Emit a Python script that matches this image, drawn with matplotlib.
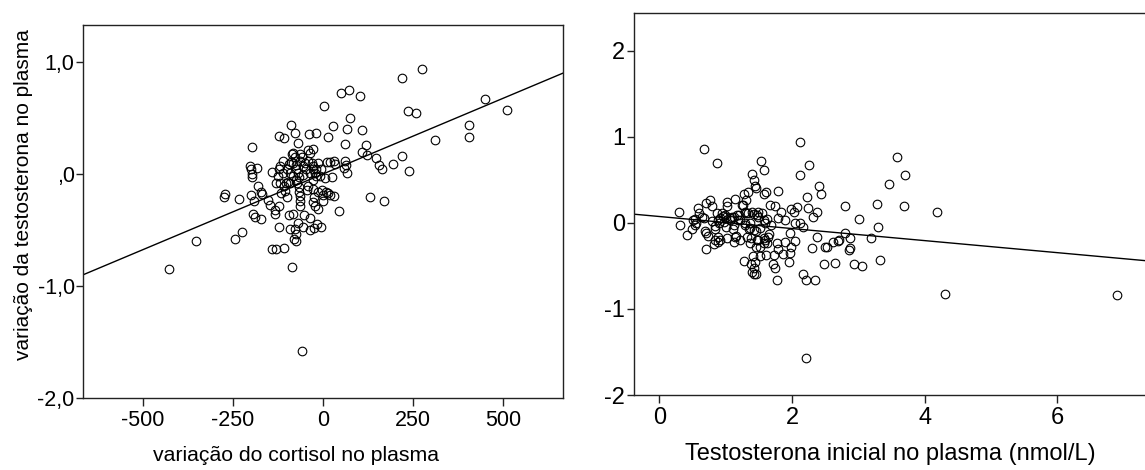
import matplotlib
matplotlib.use("Agg")
import matplotlib.pyplot as plt
import numpy as np

plt.rcParams['font.family'] = ['Liberation Sans', 'DejaVu Sans']

# ---- Left panel data: change in plasma cortisol vs change in testosterone
cortisol_change = [
    -429, -354, -276, -271, -233, -245, -226, -198, -202, -200, -198, -198, -184, -193, -180,
    -171, -169, -195, -190, -173, -152, -148, -143, -134, -134, -123, -122, -143, -130, -108,
    -122, -108, -89, -77, -69, -85, -58, -39, -20, 3, 14, 27, 50, 73, 104, 74, 66, 107, 62,
    119, 107, 122, 147, 157, 163, 195, 219, 239, 220, 276, 236, 258, 312, 406, 405, 451, 510,
    132, 169, 44, 31, 14, 19, 1, 7, -2, 6, 24, 10, 20, 31, 33, 62, 65, 58, 67, -15, -5, -16,
    -35, -36, -25, -56, -54, -70, -91, -77, -74, -81, -76, -94, -82, -99, -111, -120, -123,
    -130, -120, -117, -105, -97, -91, -100, -94, -90, -87, -83, -79, -63, -57, -42, -37, -28,
    -69, -76, -68, -72, -66, -66, -65, -65, -64, -44, -28, -25, -28, -23, -56, -46, -31, -28,
    -23, -19, -15, -83, -93, -111, -125, -83, -74, -65, -51, -42, -28, -19, -74, -56, -37,
    -28, -9, -5, -109, -102, -42, -14, 0, -199,
]
testo_change_left = [
    -0.85, -0.60, -0.21, -0.18, -0.22, -0.58, -0.52, 0.24, 0.07, 0.04, 0.00, -0.03, 0.05, -0.24, -0.11,
    -0.16, -0.18, -0.36, -0.38, -0.40, -0.23, -0.28, 0.02, -0.32, -0.36, -0.29, -0.47, -0.67, -0.67, -0.66,
    0.34, 0.32, 0.44, 0.37, 0.28, -0.83, -1.58, 0.36, 0.37, 0.61, 0.33, 0.43, 0.72, 0.75, 0.70, 0.50, 0.40, 0.39, 0.27,
    0.26, 0.20, 0.17, 0.14, 0.08, 0.04, 0.09, 0.16, 0.03, 0.86, 0.94, 0.56, 0.54, 0.30, 0.44, 0.33, 0.67, 0.57,
    -0.21, -0.24, -0.33, -0.20, -0.17, -0.19, -0.24, -0.16, -0.14, -0.04, -0.03, 0.11, 0.11, 0.12, 0.09, 0.12, 0.08, 0.05, 0.01, -0.31, -0.47, -0.45,
    -0.39, -0.50, -0.48, -0.47, -0.37, -0.44, -0.49, -0.49, -0.54, -0.58, -0.60, -0.37, -0.36, -0.21, 0.12, 0.07, 0.04,
    -0.08, -0.08, -0.17, -0.15, -0.07, -0.08, 0.04, 0.09, 0.11, 0.18, 0.19, 0.15, 0.18, 0.15, 0.21, 0.19, 0.22,
    0.01, -0.05, -0.03, -0.08, -0.12, -0.16, -0.20, -0.24, -0.29, -0.14, -0.13, -0.21, -0.25, -0.29, 0.07, 0.04, 0.10, 0.04,
    0.01, -0.02, 0.10, -0.02, 0.01, 0.01, -0.02, 0.10, 0.08, 0.12, 0.10, 0.12, 0.07, 0.04, 0.04, -0.01, 0.01,
    -0.05, -0.02, 0.04, -0.11, -0.08, -0.11, -0.16, -0.19, -0.19,
]
left_intercept, left_slope = 0.0, 0.00135

# ---- Right panel data: initial plasma testosterone vs change in testosterone
testo_initial = [
    0.29, 0.31, 0.42, 0.49, 0.51, 0.54, 0.54, 0.58, 0.59, 0.67, 0.67, 0.71, 0.76, 0.80, 0.70, 0.74,
    0.71, 0.79, 0.84, 0.84, 0.87, 0.87, 0.91, 0.90, 0.88, 0.91, 0.83, 0.96, 1.01, 1.06, 0.98, 1.02,
    1.02, 1.00, 1.02, 1.11, 1.13, 1.16, 1.146, 1.09, 1.20, 1.19, 1.26, 1.27, 1.30, 1.33, 1.27, 1.29,
    1.31, 1.35, 1.37, 1.38, 1.39, 1.42, 1.44, 1.45, 1.39, 1.43, 1.47, 1.49, 1.49, 1.38, 1.39, 1.43,
    1.45, 1.41, 1.44, 1.46, 1.43, 1.43, 1.45, 1.49, 1.52, 1.57, 1.61, 1.59, 1.53, 1.58, 1.58, 1.61,
    1.57, 1.59, 1.62, 1.63, 1.65, 1.66, 1.68, 1.74, 1.79, 1.72, 1.74, 1.73, 1.77, 1.79, 1.78, 1.79,
    1.83, 1.90, 1.87, 1.90, 1.96, 1.97, 1.98, 1.97, 1.99, 2.03, 2.05, 2.05, 2.08, 2.12, 2.12, 2.12,
    2.16, 2.16, 2.21, 2.21, 2.22, 2.25, 2.24, 2.31, 2.30, 2.35, 2.37, 2.37, 2.41, 2.43, 2.48, 2.49,
    2.52, 2.61, 2.70, 2.71, 2.65, 2.80, 2.80, 2.86, 2.88, 2.87, 2.94, 3.01, 3.06, 3.19, 3.28, 3.29,
    3.33, 3.46, 3.58, 3.68, 3.70, 4.18, 4.31, 6.90,
    0.55, 0.64, 0.69, 0.89, 0.94, 0.99, 0.84, 0.89, 1.07, 1.12, 1.17, 1.12, 1.24, 1.29, 1.34, 1.54,
    1.22, 1.29, 1.37, 1.52, 1.14, 1.22, 1.32, 1.37, 1.47, 1.52, 1.57, 1.62,
]
testo_change_right = [
    0.12, -0.03, -0.14, -0.07, 0.03, 0.04, -0.03, 0.17, 0.11, 0.86, 0.05, 0.23, 0.26, 0.20, -0.12, -0.15,
    -0.31, 0.02, -0.04, -0.07, 0.70, 0.11, 0.05, 0.00, -0.17, -0.20, -0.25, 0.08, 0.07, 0.05, 0.01, 0.24,
    0.20, -0.05, -0.18, -0.07, -0.22, -0.15, 0.28, 0.07, 0.09, 0.03, 0.21, 0.33, 0.27, 0.36, -0.44, -0.03,
    0.11, -0.07, 0.00, -0.18, 0.57, 0.50, 0.43, 0.40, 0.13, 0.10, 0.09, 0.13, 0.07, -0.48, -0.57, -0.59,
    -0.60, -0.38, -0.45, -0.28, -0.53, -0.08, -0.10, -0.20, -0.38, -0.24, -0.37, -0.20, 0.72, 0.61, 0.33, 0.36,
    0.03, 0.00, 0.04, -0.16, -0.13, 0.21, -0.02, 0.19, 0.37, -0.48, -0.52, -0.37, -0.24, -0.31, -0.66, 0.05,
    0.12, 0.03, -0.36, -0.22, -0.46, -0.35, -0.28, -0.12, 0.16, 0.12, 0.00, -0.21, 0.18, 0.94, 0.56, 0.00,
    -0.05, -0.59, -0.66, -1.57, 0.30, 0.67, 0.17, 0.07, -0.29, -0.66, -0.16, 0.13, 0.43, 0.34, -0.48, -0.28,
    -0.28, -0.22, -0.21, -0.20, -0.47, 0.19, -0.12, -0.32, -0.29, -0.18, -0.48, 0.04, -0.50, -0.18, 0.22, -0.05,
    -0.43, 0.45, 0.76, 0.19, 0.55, 0.12, -0.83, -0.84,
    0.00, 0.07, -0.10, 0.03, 0.11, 0.09, -0.20, -0.22, 0.03, 0.07, 0.09, -0.02, 0.21, 0.13, 0.11, 0.11,
    0.03, 0.00, -0.06, -0.06, -0.16, -0.20, -0.16, -0.24, -0.20, -0.28, -0.18, -0.24,
]
right_intercept, right_slope = 0.073, -0.070

left_yticks = [-2.0, -1.0, 0.0, 1.0]
left_yticklabels = ["-2,0", "-1,0", ",0", "1,0"]
left_xticks = [-500, -250, 0, 250, 500]
right_yticks = [-2, -1, 0, 1, 2]
right_xticks = [0, 2, 4, 6]

W, H = 1145, 470
fig = plt.figure(figsize=(W / 100, H / 100), dpi=100)

FS_L = 15.5
FS_R = 17
marker_kw = dict(linestyle='none', marker='o', ms=6.2, mfc='none', mec='black', mew=0.8)

# Left axes
axL = fig.add_axes([83 / W, 72 / H, 480 / W, 373 / H])
axL.plot(cortisol_change, testo_change_left, **marker_kw)
axL.set_xlim(-667, 667)
axL.set_ylim(-2.0, 1.33)
axL.axline((0, left_intercept), slope=left_slope, color='black', lw=1.0)
axL.set_yticks(left_yticks)
axL.set_yticklabels(left_yticklabels)
axL.set_xticks(left_xticks)
axL.set_xticklabels([str(v) for v in left_xticks])
axL.set_xlabel("variação do cortisol no plasma", fontsize=15.3)
axL.set_ylabel("variação da testosterona no plasma", fontsize=15)
axL.xaxis.set_label_coords(0.444, -0.13)
axL.yaxis.set_label_coords(-0.105, 0.545)

# Right axes
axR = fig.add_axes([633.5 / W, 75 / H, (W - 633.5) / W, 382.3 / H])
axR.plot(testo_initial, testo_change_right, **marker_kw)
axR.set_xlim(-0.39, 7.32)
axR.set_ylim(-2.0, 2.44)
axR.axline((0, right_intercept), slope=right_slope, color='black', lw=1.0)
axR.set_yticks(right_yticks)
axR.set_yticklabels([str(v) for v in right_yticks])
axR.set_xticks(right_xticks)
axR.set_xticklabels([str(v) for v in right_xticks])
axR.set_xlabel("Testosterona inicial no plasma (nmol/L)", fontsize=FS_R)
axR.xaxis.set_label_coords(0.503, -0.125)
axR.spines['right'].set_visible(False)

for ax, fs in ((axL, FS_L), (axR, FS_R)):
    for s in ax.spines.values():
        s.set_linewidth(1.0)
        s.set_color('#222222')
    ax.tick_params(axis='both', labelsize=fs, direction='out', length=5, width=1.0, pad=1, color='#222222')
    ax.tick_params(axis='x', length=6, pad=3)

fig.savefig("out.png", dpi=100)
